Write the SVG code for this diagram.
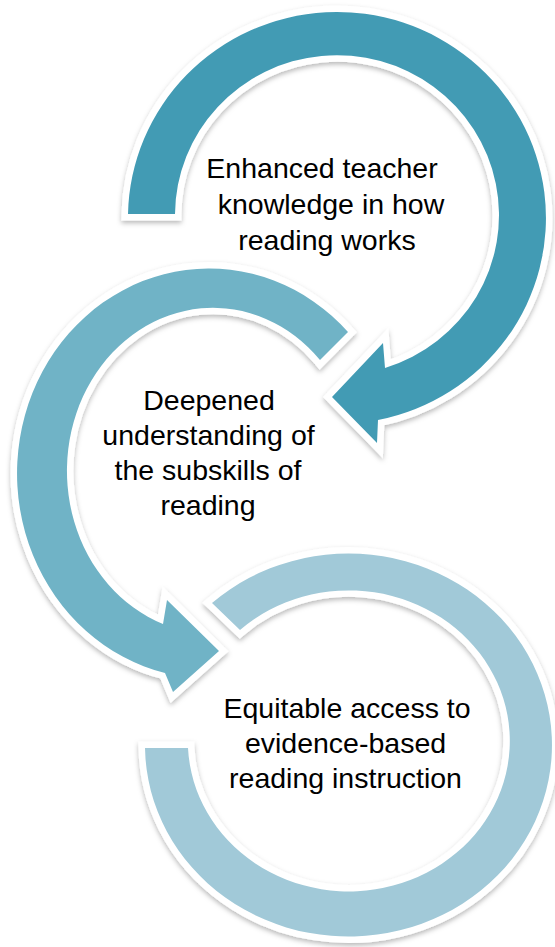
<svg xmlns="http://www.w3.org/2000/svg" width="555" height="947" viewBox="0 0 555 947">
  <defs>
    <filter id="sh" x="-10%" y="-10%" width="120%" height="125%">
      <feDropShadow dx="0" dy="2.5" stdDeviation="2.5" flood-color="#000" flood-opacity="0.28"/>
    </filter>
  </defs>
  <style>
    .arr { stroke: #ffffff; stroke-width: 13; stroke-linejoin: miter; stroke-miterlimit: 10; paint-order: stroke fill; }
    .a1 { fill: #439BB4; }
    .a2 { fill: #70B3C6; }
    .a3 { fill: #A1C9D8; }
    .lbl { font-family: "Liberation Sans", Arial, sans-serif; font-size: 28.5px; fill: #000000; text-anchor: middle; }
  </style>
  <rect width="555" height="947" fill="#ffffff"/>
  <g id="connectors" filter="url(#sh)">
    <path id="arrow1" class="arr a1" d="M 128,214 A 209 206 0 1 1 378,420 L 377,443 L 332,397 L 383,343 L 385,368 A 162 160 0 1 0 175,214 Z"/>
    <path id="arrow2" class="arr a2" d="M 348,332 A 192 205 0 1 0 165,673 L 173,692 L 219,651 L 167,600 L 163,624 A 146 163 0 1 1 320,360 Z"/>
    <path id="arrow3" class="arr a3" d="M 212,603 A 203.5 191.5 0 1 1 145,748 L 188,748 A 161 150.5 0 1 0 240,630 Z"/>
  </g>
  <g id="node1">
    <text class="lbl" x="322" y="178">Enhanced teacher</text>
    <text class="lbl" x="331" y="214">knowledge in how</text>
    <text class="lbl" x="327" y="250">reading works</text>
  </g>
  <g id="node2">
    <text class="lbl" x="209" y="410">Deepened</text>
    <text class="lbl" x="208.5" y="445">understanding of</text>
    <text class="lbl" x="208" y="480">the subskills of</text>
    <text class="lbl" x="208" y="515">reading</text>
  </g>
  <g id="node3">
    <text class="lbl" x="347" y="718">Equitable access to</text>
    <text class="lbl" x="345.5" y="753">evidence-based</text>
    <text class="lbl" x="345.5" y="788">reading instruction</text>
  </g>
</svg>
